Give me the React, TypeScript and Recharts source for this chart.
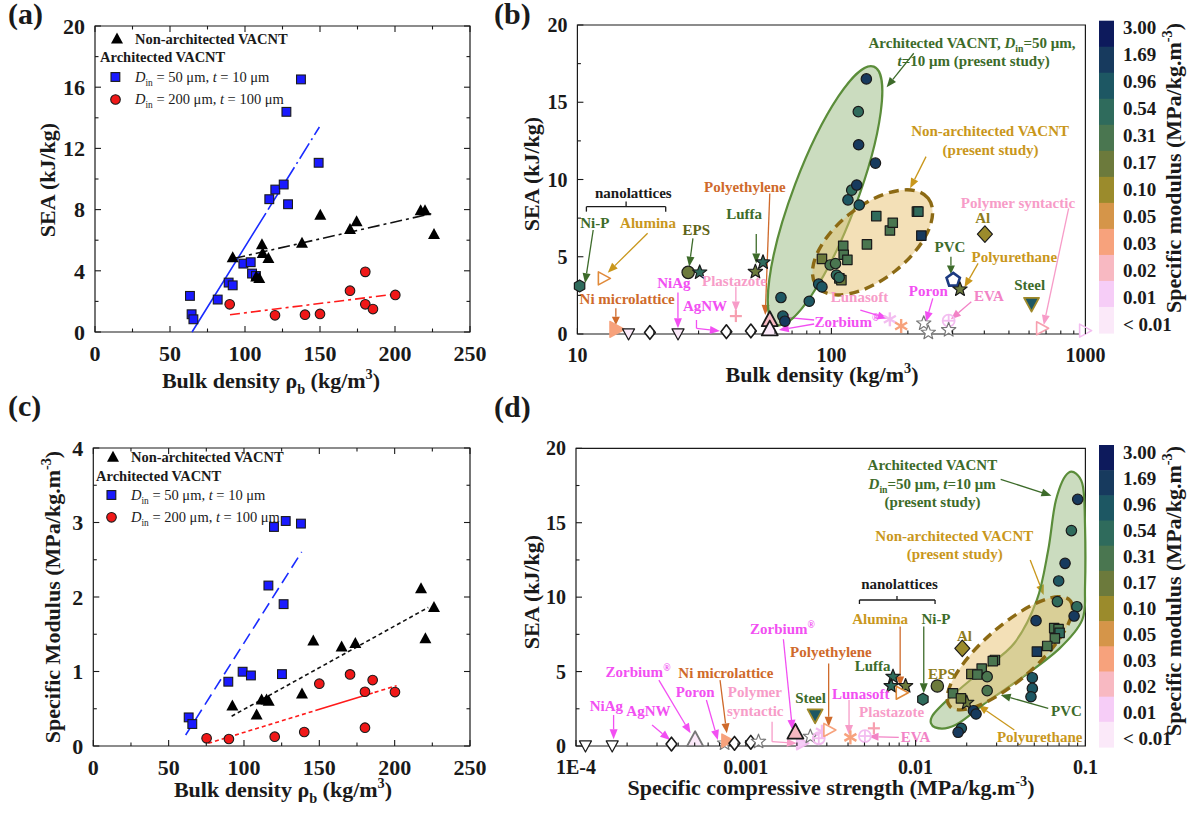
import React from 'react';
import { ScatterChart, Scatter, XAxis, YAxis, ReferenceLine, ReferenceArea } from 'recharts';

const FONT = "'Liberation Serif', 'Times New Roman', Times, serif";
const INK = '#1a1a1a';

/* ---------------- (a) SEA vs bulk density ---------------- */
const aNonArch = [
  { x: 91.8, y: 4.86 }, { x: 107.5, y: 3.6 }, { x: 109.5, y: 3.49 }, { x: 111.3, y: 5.71 },
  { x: 111.8, y: 5.13 }, { x: 115.6, y: 4.8 }, { x: 138, y: 5.8 }, { x: 150.2, y: 7.63 },
  { x: 170, y: 6.7 }, { x: 174.4, y: 7.2 }, { x: 217.1, y: 7.92 }, { x: 220, y: 7.92 }, { x: 226, y: 6.37 },
];
const aArch50 = [
  { x: 63.3, y: 2.36 }, { x: 64.4, y: 1.16 }, { x: 65.6, y: 0.83 }, { x: 81.8, y: 2.12 },
  { x: 89.1, y: 3.23 }, { x: 91.8, y: 3.05 }, { x: 98.9, y: 4.47 }, { x: 103.8, y: 4.56 },
  { x: 104.7, y: 3.82 }, { x: 107.3, y: 3.66 }, { x: 116.2, y: 8.68 }, { x: 120.2, y: 9.31 },
  { x: 125.8, y: 9.64 }, { x: 128.7, y: 8.35 }, { x: 127.6, y: 14.39 }, { x: 137.3, y: 16.51 }, { x: 149.1, y: 11.06 },
];
const aArch200 = [
  { x: 89.8, y: 1.81 }, { x: 120, y: 1.09 }, { x: 140, y: 1.13 }, { x: 150, y: 1.18 }, { x: 170, y: 2.7 },
  { x: 180.2, y: 3.93 }, { x: 180.2, y: 1.81 }, { x: 185.3, y: 1.5 }, { x: 200.2, y: 2.42 },
];
const aFitArch50 = [{ x: 64.7, y: 0 }, { x: 149.6, y: 13.4 }];
const aFitNonArch = [{ x: 92.2, y: 4.8 }, { x: 226.7, y: 7.79 }];
const aFitArch200 = [{ x: 90, y: 1.13 }, { x: 202, y: 2.5 }];

/* ---------------- (c) specific modulus vs bulk density ---------------- */
const cNonArch = [
  { x: 92.3, y: 0.536 }, { x: 108.4, y: 0.416 }, { x: 111.7, y: 0.617 }, { x: 115, y: 0.617 },
  { x: 116.4, y: 0.6 }, { x: 138.5, y: 0.697 }, { x: 146, y: 1.41 }, { x: 164.8, y: 1.33 },
  { x: 173.9, y: 1.376 }, { x: 217.5, y: 2.11 }, { x: 220.4, y: 1.44 }, { x: 226.1, y: 1.86 },
];
const cArch50 = [
  { x: 63.3, y: 0.384 }, { x: 65.7, y: 0.295 }, { x: 89.6, y: 0.863 }, { x: 99.1, y: 0.997 },
  { x: 104.6, y: 0.947 }, { x: 116.2, y: 2.154 }, { x: 119.9, y: 2.94 }, { x: 127.7, y: 3.02 },
  { x: 126.3, y: 1.904 }, { x: 125.2, y: 0.965 }, { x: 137.8, y: 2.985 },
];
const cArch200 = [
  { x: 75.2, y: 0.103 }, { x: 90, y: 0.094 }, { x: 120.4, y: 0.125 }, { x: 140, y: 0.188 },
  { x: 150, y: 0.836 }, { x: 170.4, y: 0.961 }, { x: 180.3, y: 0.728 }, { x: 180.3, y: 0.246 },
  { x: 185.4, y: 0.885 }, { x: 200.2, y: 0.724 },
];
const cFitArch50 = [{ x: 61.3, y: 0.147 }, { x: 138.3, y: 2.606 }];
const cFitNonArch = [{ x: 91.8, y: 0.4 }, { x: 222.3, y: 1.86 }];
const cFitArch200 = [{ x: 76.3, y: 0.036 }, { x: 201.3, y: 0.81 }];

/* ---------------- ticks ---------------- */
const aTicksX = [0, 25, 50, 75, 100, 125, 150, 175, 200, 225, 250];
const aTicksY = [0, 2, 4, 6, 8, 10, 12, 14, 16, 18, 20];
const cTicksY = [0, 0.5, 1, 1.5, 2, 2.5, 3, 3.5, 4];
const bTicksY = [0, 2.5, 5, 7.5, 10, 12.5, 15, 17.5, 20];
const bTicksX = [10, 20, 30, 40, 50, 60, 70, 80, 90, 100, 200, 300, 400, 500, 600, 700, 800, 900, 1000];
const dTicksX = [
  0.0001, 0.0002, 0.0003, 0.0004, 0.0005, 0.0006, 0.0007, 0.0008, 0.0009,
  0.001, 0.002, 0.003, 0.004, 0.005, 0.006, 0.007, 0.008, 0.009,
  0.01, 0.02, 0.03, 0.04, 0.05, 0.06, 0.07, 0.08, 0.09, 0.1,
];
const dTickLabels = ['1E-4', '0.001', '0.01', '0.1'];

/* ---------------- colour bar (specific modulus) ---------------- */
const modulusScale = [
  { label: '3.00', color: '#0d1a5c' },
  { label: '1.69', color: '#173a5e' },
  { label: '0.96', color: '#1d5763' },
  { label: '0.54', color: '#2f6b5c' },
  { label: '0.31', color: '#4a7650' },
  { label: '0.17', color: '#6c7a3c' },
  { label: '0.10', color: '#9b8b2c' },
  { label: '0.05', color: '#d59549' },
  { label: '0.03', color: '#f7a27c' },
  { label: '0.02', color: '#f8b9c2' },
  { label: '0.01', color: '#f6cdf7' },
  { label: '< 0.01', color: '#fbe9f9' },
];
const MOD: Record<string, string> = {};
modulusScale.forEach((m) => { MOD[m.label] = m.color; });
MOD.white = '#ffffff';

const TONE: Record<string, string> = {
  green: '#3d6b2a', gold: '#c9971c', olive: '#5f6418', olivegold: '#8f7d1c', orange: '#cf6a2b',
  magenta: '#f24ff2', lightpink: '#f79cc8', pink: '#f283c6', black: '#1a1a1a',
};
const EDGE: Record<string, string> = {
  k: '#1a1a1a', gray: '#777777', orange: '#e08a3a', navy: '#1c3a80', gold: '#a08a2a',
  pinkL: '#f3bdf0', salmon: '#f7a27c', pink: '#f7a0b0', none: 'none',
};

/* ---------------- (b) SEA vs bulk density, log ---------------- */
const bArch = [
  { x: 63.3, y: 2.36, m: '0.96' }, { x: 64.4, y: 1.16, m: '0.96' }, { x: 65.6, y: 0.83, m: '1.69' },
  { x: 81.8, y: 2.12, m: '0.96' }, { x: 89.1, y: 3.23, m: '0.96' }, { x: 91.8, y: 3.05, m: '0.96' },
  { x: 98.9, y: 4.47, m: '0.31' }, { x: 103.8, y: 4.56, m: '0.31' }, { x: 104.7, y: 3.82, m: '0.54' },
  { x: 107.3, y: 3.66, m: '0.54' }, { x: 116.2, y: 8.68, m: '0.96' }, { x: 120.2, y: 9.31, m: '0.54' },
  { x: 125.8, y: 9.64, m: '1.69' }, { x: 128.7, y: 8.35, m: '0.96' }, { x: 128, y: 12.25, m: '1.69' },
  { x: 127.6, y: 14.39, m: '0.54' }, { x: 137.3, y: 16.51, m: '1.69' }, { x: 149.1, y: 11.06, m: '1.69' },
];
const bNonArch = [
  { x: 91.8, y: 4.86, m: '0.17' }, { x: 107.5, y: 3.6, m: '0.31' }, { x: 109.5, y: 3.49, m: '0.17' },
  { x: 111.3, y: 5.71, m: '0.31' }, { x: 111.8, y: 5.13, m: '0.31' }, { x: 115.6, y: 4.8, m: '0.31' },
  { x: 138, y: 5.8, m: '0.31' }, { x: 150.2, y: 7.63, m: '0.54' }, { x: 170, y: 6.7, m: '0.31' },
  { x: 174.4, y: 7.2, m: '0.31' }, { x: 217.1, y: 7.92, m: '0.31' }, { x: 220, y: 7.92, m: '0.54' },
  { x: 226, y: 6.37, m: '1.69' },
];
const bMaterials = [
  { x: 10.2, y: 3.11, kind: 'hexagon', m: '0.54', e: 'k' },
  { x: 12.64, y: 3.6, kind: 'triRight', m: 'white', e: 'orange' },
  { x: 27.3, y: 3.99, kind: 'circleL', m: '0.17', e: 'k' },
  { x: 30.3, y: 3.99, kind: 'star', m: '0.54', e: 'k' },
  { x: 50.2, y: 4.03, kind: 'star', m: '0.17', e: 'k' },
  { x: 53.8, y: 4.64, kind: 'star', m: '0.54', e: 'k' },
  { x: 14.17, y: 0.3, kind: 'triRightL', m: '0.03', e: 'salmon' },
  { x: 15.9, y: 0.04, kind: 'triDown', m: '< 0.01', e: 'k' },
  { x: 19.3, y: 0.1, kind: 'diamond', m: 'white', e: 'k' },
  { x: 24.9, y: 0.04, kind: 'triDown', m: '< 0.01', e: 'k' },
  { x: 38.6, y: 0.15, kind: 'diamond', m: 'white', e: 'k' },
  { x: 48.2, y: 0.2, kind: 'diamond', m: 'white', e: 'k' },
  { x: 42.06, y: 1.16, kind: 'plus', m: 'white', e: 'pink' },
  { x: 57.2, y: 0.9, kind: 'triL', m: '0.02', e: 'k' },
  { x: 57.2, y: 0.3, kind: 'triL', m: '< 0.01', e: 'k' },
  { x: 169.9, y: 0.95, kind: 'asterisk', m: 'white', e: 'pinkL' },
  { x: 188.2, y: 0.52, kind: 'asterisk', m: 'white', e: 'salmon' },
  { x: 231, y: 0.69, kind: 'star', m: 'white', e: 'gray' },
  { x: 240.7, y: 0.09, kind: 'star', m: 'white', e: 'gray' },
  { x: 289.5, y: 0.86, kind: 'circlePlus', m: 'white', e: 'pinkL' },
  { x: 289.5, y: 0.26, kind: 'star', m: 'white', e: 'gray' },
  { x: 301.7, y: 3.5, kind: 'pentagon', m: 'white', e: 'navy' },
  { x: 320.8, y: 2.89, kind: 'star', m: '0.17', e: 'k' },
  { x: 402.1, y: 6.47, kind: 'diamondL', m: '0.10', e: 'k' },
  { x: 613.7, y: 1.98, kind: 'triDownL', m: '0.96', e: 'gold' },
  { x: 671.6, y: 0.37, kind: 'triRight', m: 'white', e: 'pink' },
  { x: 991.8, y: 0.22, kind: 'triRight', m: 'white', e: 'pinkL' },
];
const bRegionArch = [{ x: 94.4, y: 8.95 }];
const bRegionNonArch = [{ x: 145.2, y: 5.93 }];
const bLabels = [
  { x: 357.8, y: 18.86, t: 'Architected VACNT, |i:D|sub:in|=50 μm,', tone: 'green' },
  { x: 362.9, y: 17.67, t: '|i:t|=10 μm (present study)', tone: 'green' },
  { x: 421.5, y: 13.16, t: 'Non-architected VACNT', tone: 'gold' },
  { x: 423.3, y: 11.91, t: '(present study)', tone: 'gold' },
  { x: 16.6, y: 9.15, t: 'nanolattices', tone: 'black' },
  { x: 11.71, y: 7.21, t: 'Ni-P', tone: 'green' },
  { x: 18.97, y: 7.21, t: 'Alumina', tone: 'gold' },
  { x: 29.4, y: 6.77, t: 'EPS', tone: 'olive' },
  { x: 45.3, y: 7.77, t: 'Luffa', tone: 'green' },
  { x: 45.65, y: 9.54, t: 'Polyethylene', tone: 'orange' },
  { x: 23.97, y: 3.28, t: 'NiAg', tone: 'magenta' },
  { x: 41.55, y: 3.45, t: 'Plastazote', tone: 'lightpink' },
  { x: 15.7, y: 2.24, t: 'Ni microlattice', tone: 'orange' },
  { x: 31.8, y: 1.81, t: 'AgNW', tone: 'magenta' },
  { x: 115, y: 0.8, t: 'Zorbium|sup:®', tone: 'magenta' },
  { x: 129, y: 2.42, t: 'Lunasoft', tone: 'lightpink' },
  { x: 240.7, y: 2.8, t: 'Poron', tone: 'magenta' },
  { x: 417.2, y: 2.46, t: 'EVA', tone: 'pink' },
  { x: 603.6, y: 3.17, t: 'Steel', tone: 'green' },
  { x: 293, y: 5.61, t: 'PVC', tone: 'green' },
  { x: 525, y: 4.96, t: 'Polyurethane', tone: 'gold' },
  { x: 393.9, y: 7.49, t: 'Al', tone: 'olivegold' },
  { x: 542.5, y: 8.5, t: 'Polymer syntactic', tone: 'lightpink' },
];
const bArrows = [
  { x1: 211, y1: 18.17, x2: 165, y2: 15.97, tone: 'green' },
  { x1: 235.8, y1: 11.48, x2: 204.2, y2: 9.43, tone: 'gold' },
  { x1: 11.54, y1: 6.73, x2: 10.72, y2: 3.28, tone: 'green' },
  { x1: 18.9, y1: 6.52, x2: 13.17, y2: 3.97, tone: 'gold' },
  { x1: 28.5, y1: 6.19, x2: 27.55, y2: 4.36, tone: 'green' },
  { x1: 50.6, y1: 6.47, x2: 50.6, y2: 4.57, tone: 'green' },
  { x1: 57.2, y1: 9.1, x2: 54.9, y2: 1.23, tone: 'orange' },
  { x1: 24.88, y1: 2.68, x2: 24.88, y2: 0.37, tone: 'magenta' },
  { x1: 42.06, y1: 3.06, x2: 42.06, y2: 1.45, tone: 'lightpink' },
  { x1: 14.17, y1: 1.66, x2: 14.17, y2: 0.58, tone: 'orange' },
  { x1: 29.43, y1: 0.367, x2: 36.4, y2: 0.19, tone: 'magenta' },
  { x1: 85.5, y1: 0.906, x2: 62.1, y2: 1.12, tone: 'magenta' },
  { x1: 85.5, y1: 0.647, x2: 62.1, y2: 0.26, tone: 'magenta' },
  { x1: 130, y1: 1.55, x2: 166.3, y2: 1.01, tone: 'magenta' },
  { x1: 250.7, y1: 2.31, x2: 235.8, y2: 0.8, tone: 'magenta' },
  { x1: 355.5, y1: 2.09, x2: 295.5, y2: 0.95, tone: 'pink' },
  { x1: 295.5, y1: 5.0, x2: 295.5, y2: 3.88, tone: 'green' },
  { x1: 378, y1: 4.57, x2: 334, y2: 3.02, tone: 'gold' },
  { x1: 859, y1: 8.13, x2: 685.6, y2: 0.58, tone: 'lightpink' },
];
const bLines = [
  { x1: 10.85, y1: 8.24, x2: 22.27, y2: 8.24, tone: 'black' },
  { x1: 10.85, y1: 8.24, x2: 10.85, y2: 7.92, tone: 'black' },
  { x1: 22.27, y1: 8.24, x2: 22.27, y2: 7.92, tone: 'black' },
  { x1: 15.55, y1: 8.24, x2: 15.55, y2: 8.57, tone: 'black' },
  { x1: 29.43, y1: 0.906, x2: 29.43, y2: 0.367, tone: 'magenta' },
];

/* ---------------- (d) SEA vs specific compressive strength, log ---------------- */
const dArch = [
  { x: 0.0901, y: 16.57, m: '1.69' }, { x: 0.0827, y: 14.47, m: '0.54' }, { x: 0.0759, y: 12.27, m: '1.69' },
  { x: 0.0696, y: 11.09, m: '0.96' }, { x: 0.0684, y: 9.7, m: '0.54' }, { x: 0.0891, y: 9.36, m: '0.54' },
  { x: 0.0858, y: 8.73, m: '1.69' }, { x: 0.0512, y: 8.42, m: '1.69' }, { x: 0.0487, y: 4.59, m: '0.96' },
  { x: 0.0487, y: 3.87, m: '0.96' }, { x: 0.0478, y: 3.31, m: '0.96' }, { x: 0.0264, y: 4.66, m: '0.31' },
  { x: 0.0264, y: 3.72, m: '0.31' }, { x: 0.0219, y: 2.37, m: '1.69' }, { x: 0.0227, y: 2.15, m: '1.69' },
  { x: 0.0186, y: 1.19, m: '0.96' }, { x: 0.0178, y: 0.92, m: '1.69' },
];
const dNonArch = [
  { x: 0.0655, y: 7.92, m: '0.31' }, { x: 0.0695, y: 7.85, m: '0.31' }, { x: 0.0705, y: 7.6, m: '0.54' },
  { x: 0.0661, y: 7.23, m: '0.31' }, { x: 0.0596, y: 6.72, m: '0.31' }, { x: 0.0518, y: 6.34, m: '1.69' },
  { x: 0.0293, y: 5.78, m: '0.31' }, { x: 0.0285, y: 5.7, m: '0.31' }, { x: 0.0245, y: 5.2, m: '0.31' },
  { x: 0.0213, y: 4.84, m: '0.17' }, { x: 0.0231, y: 4.8, m: '0.31' }, { x: 0.0166, y: 3.54, m: '0.31' },
  { x: 0.0185, y: 3.2, m: '0.17' },
];
const dMaterials = [
  { x: 0.0001137, y: 0.04, kind: 'triDown', m: 'white', e: 'k' },
  { x: 0.0001634, y: 0.04, kind: 'triDown', m: 'white', e: 'k' },
  { x: 0.000365, y: 0.13, kind: 'diamond', m: 'white', e: 'k' },
  { x: 0.000503, y: 0.4, kind: 'triL', m: '< 0.01', e: 'gray' },
  { x: 0.00075, y: 0.18, kind: 'star', m: 'white', e: 'gray' },
  { x: 0.000773, y: 0.36, kind: 'triRight', m: '0.03', e: 'salmon' },
  { x: 0.000858, y: 0.18, kind: 'diamond', m: 'white', e: 'k' },
  { x: 0.00107, y: 0.25, kind: 'diamond', m: 'white', e: 'k' },
  { x: 0.001188, y: 0.29, kind: 'star', m: 'white', e: 'gray' },
  { x: 0.00213, y: 0.18, kind: 'triRight', m: '0.01', e: 'pinkL' },
  { x: 0.00196, y: 0.9, kind: 'triL', m: '0.02', e: 'k' },
  { x: 0.0024, y: 0.63, kind: 'star', m: 'white', e: 'gray' },
  { x: 0.00269, y: 0.52, kind: 'circlePlus', m: 'white', e: 'pinkL' },
  { x: 0.00281, y: 0.96, kind: 'asterisk', m: 'white', e: 'pinkL' },
  { x: 0.00256, y: 2.08, kind: 'triDownL', m: '0.96', e: 'gold' },
  { x: 0.00308, y: 1.08, kind: 'triRight', m: 'white', e: 'salmon' },
  { x: 0.00413, y: 0.58, kind: 'asterisk', m: 'white', e: 'salmon' },
  { x: 0.00503, y: 0.67, kind: 'circlePlus', m: 'white', e: 'pinkL' },
  { x: 0.00568, y: 1.19, kind: 'plus', m: 'white', e: 'pink' },
  { x: 0.00736, y: 4.66, kind: 'star', m: '0.54', e: 'k' },
  { x: 0.00718, y: 4.03, kind: 'star', m: '0.54', e: 'k' },
  { x: 0.00873, y: 4.03, kind: 'star', m: '0.17', e: 'k' },
  { x: 0.00822, y: 3.58, kind: 'triRight', m: 'white', e: 'orange' },
  { x: 0.01104, y: 3.14, kind: 'hexagon', m: '0.54', e: 'k' },
  { x: 0.01343, y: 4.03, kind: 'circleL', m: '0.17', e: 'k' },
  { x: 0.01884, y: 6.56, kind: 'diamondL', m: '0.10', e: 'k' },
  { x: 0.02, y: 2.91, kind: 'star', m: '0.17', e: 'k' },
];
const dRegionArch = [
  { x: 0.0797, y: 18.37 }, { x: 0.0958, y: 17.65 }, { x: 0.0995, y: 14.74 }, { x: 0.0995, y: 10.71 },
  { x: 0.0958, y: 8.47 }, { x: 0.0705, y: 6.56 }, { x: 0.0431, y: 4.66 }, { x: 0.0264, y: 2.98 },
  { x: 0.01717, y: 1.41 }, { x: 0.01302, y: 1.25 }, { x: 0.01247, y: 1.97 }, { x: 0.01614, y: 3.31 },
  { x: 0.0248, y: 5.11 }, { x: 0.0381, y: 6.9 }, { x: 0.0518, y: 9.81 }, { x: 0.0604, y: 13.17 },
  { x: 0.0671, y: 16.53 },
];
const dRegionNonArch = [{ x: 0.0359, y: 6.23 }];
const dLabels = [
  { x: 0.01256, y: 18.88, t: 'Architected VACNT', tone: 'green' },
  { x: 0.01252, y: 17.6, t: '|i:D|sub:in|=50 μm, |i:t|=10 μm', tone: 'green' },
  { x: 0.01256, y: 16.37, t: '(present study)', tone: 'green' },
  { x: 0.0169, y: 14.13, t: 'Non-architected VACNT', tone: 'gold' },
  { x: 0.017, y: 12.88, t: '(present study)', tone: 'gold' },
  { x: 0.00804, y: 10.86, t: 'nanolattices', tone: 'black' },
  { x: 0.00618, y: 8.51, t: 'Alumina', tone: 'gold' },
  { x: 0.01318, y: 8.51, t: 'Ni-P', tone: 'green' },
  { x: 0.0194, y: 7.39, t: 'Al', tone: 'olivegold' },
  { x: 0.00558, y: 5.4, t: 'Luffa', tone: 'green' },
  { x: 0.01428, y: 4.84, t: 'EPS', tone: 'olivegold' },
  { x: 0.003173, y: 6.29, t: 'Polyethylene', tone: 'orange' },
  { x: 0.001644, y: 7.84, t: 'Zorbium|sup:®', tone: 'magenta' },
  { x: 0.0002319, y: 4.99, t: 'Zorbium|sup:®', tone: 'magenta' },
  { x: 0.000763, y: 4.93, t: 'Ni microlattice', tone: 'orange' },
  { x: 0.000503, y: 3.61, t: 'Poron', tone: 'magenta' },
  { x: 0.001131, y: 3.61, t: 'Polymer', tone: 'lightpink' },
  { x: 0.001136, y: 2.35, t: 'syntactic', tone: 'lightpink' },
  { x: 0.0001509, y: 2.69, t: 'NiAg', tone: 'magenta' },
  { x: 0.000267, y: 2.37, t: 'AgNW', tone: 'magenta' },
  { x: 0.002406, y: 3.25, t: 'Steel', tone: 'green' },
  { x: 0.004755, y: 3.49, t: 'Lunasoft', tone: 'magenta' },
  { x: 0.00722, y: 2.26, t: 'Plastazote', tone: 'lightpink' },
  { x: 0.01, y: 0.63, t: 'EVA', tone: 'pink' },
  { x: 0.0773, y: 2.37, t: 'PVC', tone: 'green' },
  { x: 0.0538, y: 0.63, t: 'Polyurethane', tone: 'gold' },
];
const dArrows = [
  { x1: 0.0317, y1: 17.92, x2: 0.0631, y2: 16.82, tone: 'green' },
  { x1: 0.0473, y1: 12.5, x2: 0.0568, y2: 10.15, tone: 'gold' },
  { x1: 0.00811, y1: 8.02, x2: 0.00811, y2: 3.99, tone: 'orange' },
  { x1: 0.01117, y1: 8.02, x2: 0.01117, y2: 3.54, tone: 'green' },
  { x1: 0.003076, y1: 5.55, x2: 0.003076, y2: 1.3, tone: 'orange' },
  { x1: 0.001665, y1: 7.17, x2: 0.001883, y2: 1.08, tone: 'magenta' },
  { x1: 0.0003076, y1: 4.43, x2: 0.0004727, y2: 0.85, tone: 'magenta' },
  { x1: 0.000705, y1: 4.43, x2: 0.000773, y2: 0.85, tone: 'orange' },
  { x1: 0.000586, y1: 3.09, x2: 0.000684, y2: 0.4, tone: 'magenta' },
  { x1: 0.001428, y1: 0.29, x2: 0.002, y2: 0.18, tone: 'lightpink' },
  { x1: 0.0001665, y1: 2.08, x2: 0.0001665, y2: 0.45, tone: 'magenta' },
  { x1: 0.0002805, y1: 1.41, x2: 0.0003586, y2: 0.4, tone: 'magenta' },
  { x1: 0.004055, y1: 3.09, x2: 0.004055, y2: 0.74, tone: 'lightpink' },
  { x1: 0.00796, y1: 0.58, x2: 0.00528, y2: 0.63, tone: 'pink' },
  { x1: 0.0604, y1: 2.53, x2: 0.0317, y2: 3.43, tone: 'green' },
  { x1: 0.03814, y1: 1.08, x2: 0.02333, y2: 2.75, tone: 'gold' },
];
const dLines = [
  { x1: 0.00467, y1: 9.81, x2: 0.01302, y2: 9.81, tone: 'black' },
  { x1: 0.00467, y1: 9.81, x2: 0.00467, y2: 9.54, tone: 'black' },
  { x1: 0.01302, y1: 9.81, x2: 0.01302, y2: 9.54, tone: 'black' },
  { x1: 0.00777, y1: 9.81, x2: 0.00777, y2: 10.08, tone: 'black' },
  { x1: 0.001428, y1: 1.63, x2: 0.001428, y2: 0.29, tone: 'lightpink' },
];

/* ================= helpers ================= */
const Hidden = () => <g />;

function Rich({ x, y, text, size = 15, color = INK, anchor = 'middle', weight = 'bold', transform }: any) {
  const segs = String(text).split('|').filter((s: string) => s.length > 0);
  let shift = 0;
  const spans = segs.map((seg: string, i: number) => {
    let content = seg;
    let target = 0;
    let fs: number | undefined;
    let italic = false;
    if (seg.startsWith('i:')) { content = seg.slice(2); italic = true; }
    else if (seg.startsWith('sub:')) { content = seg.slice(4); target = size * 0.28; fs = size * 0.65; }
    else if (seg.startsWith('sup:')) { content = seg.slice(4); target = -size * 0.4; fs = size * 0.65; }
    const dy = target - shift;
    shift = target;
    return (
      <tspan key={i} dy={dy !== 0 ? dy : undefined} fontSize={fs} fontStyle={italic ? 'italic' : undefined}>
        {content}
      </tspan>
    );
  });
  return (
    <text x={x} y={y} textAnchor={anchor} fontFamily={FONT} fontWeight={weight} fontSize={size} fill={color}
      transform={transform} style={{ whiteSpace: 'pre' }}>
      {spans}
    </text>
  );
}

const P = (arr: number[][]) => arr.map((p) => `${p[0]},${p[1]}`).join(' ');
function regular(cx: number, cy: number, r: number, n: number, rot: number) {
  const out: number[][] = [];
  for (let i = 0; i < n; i++) {
    const a = rot + (i * 2 * Math.PI) / n;
    out.push([cx + r * Math.cos(a), cy + r * Math.sin(a)]);
  }
  return P(out);
}
function starPts(cx: number, cy: number, R: number, r: number) {
  const out: number[][] = [];
  for (let i = 0; i < 10; i++) {
    const a = -Math.PI / 2 + (i * Math.PI) / 5;
    const rad = i % 2 ? r : R;
    out.push([cx + rad * Math.cos(a), cy + rad * Math.sin(a)]);
  }
  return P(out);
}

function Mark({ kind, cx, cy, fill, stroke, sw = 1.2 }: any) {
  const c = { fill, stroke, strokeWidth: sw, strokeLinejoin: 'round' as const };
  switch (kind) {
    case 'circle': return <circle cx={cx} cy={cy} r={5.2} {...c} />;
    case 'circleL': return <circle cx={cx} cy={cy} r={6.2} {...c} />;
    case 'square': return <rect x={cx - 4.7} y={cy - 4.7} width={9.4} height={9.4} {...c} />;
    case 'tri': { const h = 5.8; return <polygon points={P([[cx, cy - h * 1.1], [cx - h, cy + h * 0.75], [cx + h, cy + h * 0.75]])} {...c} />; }
    case 'triL': { const h = 8; return <polygon points={P([[cx, cy - h * 1.1], [cx - h, cy + h * 0.75], [cx + h, cy + h * 0.75]])} {...c} strokeWidth={1.8} />; }
    case 'triDown': { const h = 6; return <polygon points={P([[cx, cy + h * 1.1], [cx - h, cy - h * 0.75], [cx + h, cy - h * 0.75]])} {...c} />; }
    case 'triDownL': { const h = 7.5; return <polygon points={P([[cx, cy + h * 1.1], [cx - h, cy - h * 0.75], [cx + h, cy - h * 0.75]])} {...c} strokeWidth={1.8} />; }
    case 'triRight': { const h = 6.5; return <polygon points={P([[cx + h * 1.1, cy], [cx - h * 0.75, cy - h], [cx - h * 0.75, cy + h]])} {...c} strokeWidth={1.6} />; }
    case 'triRightL': { const h = 8; return <polygon points={P([[cx + h * 1.1, cy], [cx - h * 0.75, cy - h], [cx - h * 0.75, cy + h]])} {...c} />; }
    case 'diamond': { const h = 6; return <polygon points={P([[cx, cy - h * 1.15], [cx + h * 0.9, cy], [cx, cy + h * 1.15], [cx - h * 0.9, cy]])} {...c} strokeWidth={1.6} />; }
    case 'diamondL': { const h = 7.5; return <polygon points={P([[cx, cy - h * 1.1], [cx + h, cy], [cx, cy + h * 1.1], [cx - h, cy]])} {...c} />; }
    case 'star': return <polygon points={starPts(cx, cy, 7.5, 3.2)} {...c} />;
    case 'hexagon': return <polygon points={regular(cx, cy, 6, 6, Math.PI / 6)} {...c} />;
    case 'pentagon': return <polygon points={regular(cx, cy, 7, 5, -Math.PI / 2)} fill={fill} stroke={stroke} strokeWidth={2.6} />;
    case 'plus': return (
      <g stroke={stroke} strokeWidth={2.2}>
        <line x1={cx - 6} x2={cx + 6} y1={cy} y2={cy} />
        <line x1={cx} x2={cx} y1={cy - 6} y2={cy + 6} />
      </g>
    );
    case 'asterisk': return (
      <g stroke={stroke} strokeWidth={2.4}>
        <line x1={cx} x2={cx} y1={cy - 7} y2={cy + 7} />
        <line x1={cx - 6} x2={cx + 6} y1={cy - 3.5} y2={cy + 3.5} />
        <line x1={cx - 6} x2={cx + 6} y1={cy + 3.5} y2={cy - 3.5} />
      </g>
    );
    case 'circlePlus': return (
      <g stroke={stroke} strokeWidth={1.8} fill="none">
        <circle cx={cx} cy={cy} r={6} />
        <line x1={cx - 6} x2={cx + 6} y1={cy} y2={cy} />
        <line x1={cx} x2={cx} y1={cy - 6} y2={cy + 6} />
      </g>
    );
    default: return <circle cx={cx} cy={cy} r={5} {...c} />;
  }
}

const materialShape = (p: any) => (
  <Mark kind={p.payload.kind} cx={p.cx} cy={p.cy} fill={MOD[p.payload.m]} stroke={EDGE[p.payload.e]} />
);
const modCircle = (p: any) => <Mark kind="circle" cx={p.cx} cy={p.cy} fill={MOD[p.payload.m]} stroke={INK} />;
const modSquare = (p: any) => <Mark kind="square" cx={p.cx} cy={p.cy} fill={MOD[p.payload.m]} stroke={INK} />;
const labelShape = (p: any) => (
  <Rich x={p.cx} y={p.cy + 15 * 0.34} text={p.payload.t} color={TONE[p.payload.tone]} size={15} />
);

const arrowShape = (color: string) => (p: any) => {
  const { x1, y1, x2, y2 } = p;
  const dx = x2 - x1, dy = y2 - y1;
  const L = Math.hypot(dx, dy) || 1;
  const ux = dx / L, uy = dy / L;
  const hl = Math.min(10, L * 0.5), hw = 4;
  const bx = x2 - ux * hl, by = y2 - uy * hl;
  return (
    <g>
      <line x1={x1} y1={y1} x2={bx} y2={by} stroke={color} strokeWidth={1.3} />
      <polygon points={`${x2},${y2} ${bx - uy * hw},${by + ux * hw} ${bx + uy * hw},${by - ux * hw}`} fill={color} />
    </g>
  );
};

const ellipseShape = (rx: number, ry: number, rot: number, fill: string, stroke: string, sw: number, dash?: string) =>
  (p: any) => (
    <ellipse cx={p.cx} cy={p.cy} rx={rx} ry={ry} transform={`rotate(${rot} ${p.cx} ${p.cy})`}
      fill={fill} stroke={stroke} strokeWidth={sw} strokeDasharray={dash} />
  );

function closedCurve(pts: { x: number; y: number }[]) {
  const n = pts.length;
  if (!n) return '';
  let d = `M${pts[0].x},${pts[0].y}`;
  for (let i = 0; i < n; i++) {
    const p0 = pts[(i - 1 + n) % n], p1 = pts[i], p2 = pts[(i + 1) % n], p3 = pts[(i + 2) % n];
    const c1x = p1.x + (p2.x - p0.x) / 6, c1y = p1.y + (p2.y - p0.y) / 6;
    const c2x = p2.x - (p3.x - p1.x) / 6, c2y = p2.y - (p3.y - p1.y) / 6;
    d += ` C${c1x},${c1y} ${c2x},${c2y} ${p2.x},${p2.y}`;
  }
  return d + ' Z';
}
const regionLine = (fill: string, stroke: string) => (p: any) => (
  <path d={closedCurve(p.points || [])} fill={fill} stroke={stroke} strokeWidth={2.2} />
);

const GREEN_FILL = 'rgba(118,163,88,0.38)';
const GREEN_EDGE = '#5b8d3a';
const GOLD_FILL = 'rgba(232,194,112,0.5)';
const GOLD_EDGE = '#8c6a14';

/* ticks */
function makeXTick(o: any) {
  return (p: any) => {
    const v = Number(p.payload && p.payload.value);
    const x = p.x;
    const maj = o.isMajor(v);
    const len = maj ? 6 : 3.5;
    return (
      <g>
        <line x1={x} x2={x} y1={o.axisY} y2={o.axisY - len} stroke={INK} strokeWidth={1.1} />
        {o.mirror ? <line x1={x} x2={x} y1={o.axisY - o.plotH} y2={o.axisY - o.plotH + len} stroke={INK} strokeWidth={1.1} /> : null}
        {maj ? (
          <text x={x} y={o.axisY + o.base} textAnchor="middle" fontFamily={FONT} fontWeight="bold" fontSize={o.fs} fill={INK}>
            {o.fmt(v)}
          </text>
        ) : null}
      </g>
    );
  };
}
function makeYTick(o: any) {
  return (p: any) => {
    const v = Number(p.payload && p.payload.value);
    const y = p.y;
    const maj = o.isMajor(v);
    const len = maj ? 6 : 3.5;
    return (
      <g>
        <line x1={o.axisX} x2={o.axisX + len} y1={y} y2={y} stroke={INK} strokeWidth={1.1} />
        {o.mirror ? <line x1={o.axisX + o.plotW} x2={o.axisX + o.plotW - len} y1={y} y2={y} stroke={INK} strokeWidth={1.1} /> : null}
        {maj ? (
          <text x={o.axisX - 10} y={y + o.fs * 0.35} textAnchor="end" fontFamily={FONT} fontWeight="bold" fontSize={o.fs} fill={INK}>
            {o.fmt(v)}
          </text>
        ) : null}
      </g>
    );
  };
}
const isMultiple = (step: number) => (v: number) => Math.abs(v / step - Math.round(v / step)) < 1e-6;
const isDecade = (v: number) => { const l = Math.log10(v); return Math.abs(l - Math.round(l)) < 1e-6; };
const plain = (v: number) => String(v);

/* ================= panels ================= */
function LinearPanel({ left, top, W, H, box, yMax, yTicks, yStep, nonArch, arch50, arch200, fits, dashes }: any) {
  const plotW = box.R - box.L, plotH = box.B - box.T;
  return (
    <div style={{ position: 'absolute', left, top, width: W, height: H }}>
      <ScatterChart width={W} height={H} margin={{ top: box.T, right: W - box.R, left: box.L - 60, bottom: H - box.B - 40 }}>
        <XAxis dataKey="x" type="number" domain={[0, 250]} ticks={aTicksX} interval={0} axisLine={false} tickLine={false}
          height={40} tick={makeXTick({ axisY: box.B, plotH, mirror: true, isMajor: isMultiple(50), fmt: plain, fs: 22, base: 29 })} />
        <YAxis dataKey="y" type="number" domain={[0, yMax]} ticks={yTicks} interval={0} axisLine={false} tickLine={false}
          width={60} tick={makeYTick({ axisX: box.L, plotW, mirror: true, isMajor: isMultiple(yStep), fmt: plain, fs: 22 })} />
        <ReferenceArea x1={0} x2={250} y1={0} y2={yMax} fill="none" stroke={INK} strokeWidth={1.2} ifOverflow="visible" />
        <Scatter data={fits[0]} shape={Hidden} line={{ stroke: '#1a2cff', strokeWidth: 1.6, strokeDasharray: dashes[0] }} lineType="joint" legendType="none" isAnimationActive={false} />
        <Scatter data={fits[1]} shape={Hidden} line={{ stroke: '#111111', strokeWidth: 1.6, strokeDasharray: dashes[1] }} lineType="joint" legendType="none" isAnimationActive={false} />
        <Scatter data={fits[2]} shape={Hidden} line={{ stroke: '#ff1a1a', strokeWidth: 1.6, strokeDasharray: dashes[2] }} lineType="joint" legendType="none" isAnimationActive={false} />
        <Scatter data={arch200} shape={(p: any) => <circle cx={p.cx} cy={p.cy} r={4.8} fill="#f01818" stroke={INK} strokeWidth={1.1} />} isAnimationActive={false} />
        <Scatter data={arch50} shape={(p: any) => <rect x={p.cx - 4.4} y={p.cy - 4.4} width={8.8} height={8.8} fill="#1a1aff" stroke={INK} strokeWidth={1.1} />} isAnimationActive={false} />
        <Scatter data={nonArch} shape={(p: any) => <polygon points={P([[p.cx, p.cy - 6.5], [p.cx - 6, p.cy + 4.5], [p.cx + 6, p.cy + 4.5]])} fill="#000" />} isAnimationActive={false} />
      </ScatterChart>
    </div>
  );
}

function LogPanel({ left, top, W, H, box, xDomain, xTicks, fmtX, arch, nonArch, materials, regionArch, regionArchEllipse, regionNonArch, nonArchEllipse, labels, arrows, lines }: any) {
  const plotW = box.R - box.L, plotH = box.B - box.T;
  return (
    <div style={{ position: 'absolute', left, top, width: W, height: H }}>
      <ScatterChart width={W} height={H} margin={{ top: box.T, right: W - box.R, left: box.L - 60, bottom: H - box.B - 40 }}>
        <XAxis dataKey="x" type="number" scale="log" domain={xDomain} ticks={xTicks} interval={0} axisLine={false} tickLine={false}
          height={40} tick={makeXTick({ axisY: box.B, plotH, mirror: false, isMajor: isDecade, fmt: fmtX, fs: 20, base: 28 })} />
        <YAxis dataKey="y" type="number" domain={[0, 20]} ticks={bTicksY} interval={0} axisLine={false} tickLine={false}
          width={60} tick={makeYTick({ axisX: box.L, plotW, mirror: false, isMajor: isMultiple(5), fmt: plain, fs: 20 })} />
        <ReferenceArea x1={xDomain[0]} x2={xDomain[1]} y1={0} y2={20} fill="none" stroke={INK} strokeWidth={1.2} ifOverflow="visible" />
        {regionArchEllipse ? (
          <Scatter data={regionArch} shape={ellipseShape(regionArchEllipse[0], regionArchEllipse[1], regionArchEllipse[2], GREEN_FILL, GREEN_EDGE, 2.2)} isAnimationActive={false} />
        ) : (
          <Scatter data={regionArch} shape={Hidden} line={regionLine(GREEN_FILL, GREEN_EDGE)} lineType="joint" isAnimationActive={false} />
        )}
        <Scatter data={regionNonArch} shape={ellipseShape(nonArchEllipse[0], nonArchEllipse[1], nonArchEllipse[2], GOLD_FILL, GOLD_EDGE, 3.4, '10 6')} isAnimationActive={false} />
        <Scatter data={materials} shape={materialShape} isAnimationActive={false} />
        <Scatter data={nonArch} shape={modSquare} isAnimationActive={false} />
        <Scatter data={arch} shape={modCircle} isAnimationActive={false} />
        {lines.map((l: any, i: number) => (
          <ReferenceLine key={'l' + i} segment={[{ x: l.x1, y: l.y1 }, { x: l.x2, y: l.y2 }]} stroke={TONE[l.tone]} strokeWidth={1.3} ifOverflow="visible" />
        ))}
        {arrows.map((a: any, i: number) => (
          <ReferenceLine key={'a' + i} segment={[{ x: a.x1, y: a.y1 }, { x: a.x2, y: a.y2 }]} ifOverflow="visible" shape={arrowShape(TONE[a.tone])} />
        ))}
        <Scatter data={labels} shape={labelShape} isAnimationActive={false} />
      </ScatterChart>
    </div>
  );
}

function ColorBar({ x, top, bottom, labelTop, labelStep }: any) {
  const n = modulusScale.length;
  const h = (bottom - top) / n;
  return (
    <g>
      {modulusScale.map((m, i) => <rect key={i} x={x} y={top + i * h} width={15} height={h + 0.6} fill={m.color} />)}
      {modulusScale.map((m, i) => (
        <text key={'t' + i} x={x + 24} y={labelTop + i * labelStep + 19 * 0.35} fontSize={19} fontWeight="bold" fontFamily={FONT} fill={INK}>
          {m.label}
        </text>
      ))}
    </g>
  );
}

function Legend({ x0, yRows }: any) {
  const [r1, r2, r3, r4] = yRows;
  return (
    <g>
      <polygon points={P([[x0 + 17, r1 - 6.5], [x0 + 11, r1 + 4.5], [x0 + 23, r1 + 4.5]])} fill="#000" />
      <text x={x0 + 35} y={r1 + 5} fontFamily={FONT} fontWeight="bold" fontSize={14.5} fill={INK}>Non-architected VACNT</text>
      <text x={x0} y={r2 + 5} fontFamily={FONT} fontWeight="bold" fontSize={14.5} fill={INK}>Architected VACNT</text>
      <rect x={x0 + 11} y={r3 - 4.4} width={8.8} height={8.8} fill="#1a1aff" stroke={INK} strokeWidth={1.1} />
      <Rich x={x0 + 35} y={r3 + 4.5} text="|i:D|sub:in| = 50 μm, |i:t| = 10 μm" size={14.5} anchor="start" weight="normal" />
      <circle cx={x0 + 15.5} cy={r4} r={4.8} fill="#f01818" stroke={INK} strokeWidth={1.1} />
      <Rich x={x0 + 35} y={r4 + 4.5} text="|i:D|sub:in| = 200 μm, |i:t| = 100 μm" size={14.5} anchor="start" weight="normal" />
    </g>
  );
}

function Overlay() {
  return (
    <svg width={1190} height={816} style={{ position: 'absolute', left: 0, top: 0, pointerEvents: 'none' }}>
      <g fontFamily={FONT} fontWeight="bold" fontSize={30} fill={INK}>
        <text x={8} y={24}>(a)</text>
        <text x={494} y={24}>(b)</text>
        <text x={8} y={416}>(c)</text>
        <text x={494} y={417}>(d)</text>
      </g>
      <Legend x0={100} yRows={[39, 57, 77, 99.5]} />
      <Legend x0={96} yRows={[457.3, 476, 495, 517.3]} />
      <Rich x={271} y={388} text="Bulk density ρ|sub:b| (kg/m|sup:3|)" size={22} />
      <Rich x={0} y={0} text="SEA (kJ/kg)" size={22} transform="translate(55,180) rotate(-90)" />
      <Rich x={283} y={797} text="Bulk density ρ|sub:b| (kg/m|sup:3|)" size={22} />
      <Rich x={0} y={0} text="Specific Modulus (MPa/kg.m|sup:-3|)" size={22} transform="translate(60,597) rotate(-90)" />
      <Rich x={822} y={382} text="Bulk density (kg/m|sup:3|)" size={22} />
      <Rich x={0} y={0} text="SEA (kJ/kg)" size={22} transform="translate(539,174) rotate(-90)" />
      <Rich x={831} y={795} text="Specific compressive strength (MPa/kg.m|sup:-3|)" size={22} />
      <Rich x={0} y={0} text="SEA (kJ/kg)" size={22} transform="translate(539,592) rotate(-90)" />
      <ColorBar x={1099} top={20.7} bottom={333} labelTop={27} labelStep={27} />
      <ColorBar x={1099} top={445} bottom={747} labelTop={452} labelStep={26} />
      <Rich x={0} y={0} text="Specific modulus (MPa/kg.m|sup:-3|)" size={22} transform="translate(1181,168) rotate(-90)" />
      <Rich x={0} y={0} text="Specific modulus (MPa/kg.m|sup:-3|)" size={22} transform="translate(1181,591) rotate(-90)" />
    </svg>
  );
}

export default function App() {
  return (
    <div style={{ position: 'absolute', left: 0, top: 0, width: 1190, height: 816, background: '#ffffff', overflow: 'hidden' }}>
      <style>{'.recharts-surface{overflow:visible !important}.recharts-wrapper{overflow:visible !important}'}</style>
      <LinearPanel left={0} top={0} W={480} H={400} box={{ L: 95, T: 26, R: 470, B: 332 }} yMax={20} yTicks={aTicksY} yStep={4}
        nonArch={aNonArch} arch50={aArch50} arch200={aArch200} fits={[aFitArch50, aFitNonArch, aFitArch200]}
        dashes={['140 4 22 4 2 4 18 4 2 4 18 4 2 4', '12 4 3 4', '10 4 3 4']} />
      <LinearPanel left={0} top={400} W={480} H={416} box={{ L: 93.3, T: 48, R: 470, B: 346 }} yMax={4} yTicks={cTicksY} yStep={1}
        nonArch={cNonArch} arch50={cArch50} arch200={cArch200} fits={[cFitArch50, cFitNonArch, cFitArch200]}
        dashes={['12 6', '4 3', '4 3 4 3 4 3 4 3 4 3 4 3 4 3 4 3 4 3 4 3 4 3 4 3 4 3 4 3 4 3 4 3 60 2']} />
      <LogPanel left={480} top={0} W={710} H={400} box={{ L: 97.4, T: 25, R: 605.4, B: 334 }} xDomain={[10, 1000]} xTicks={bTicksX}
        fmtX={plain} arch={bArch} nonArch={bNonArch} materials={bMaterials}
        regionArch={bRegionArch} regionArchEllipse={[32, 138, 20.7]} regionNonArch={bRegionNonArch} nonArchEllipse={[71, 36.5, -38.4]}
        labels={bLabels} arrows={bArrows} lines={bLines} />
      <LogPanel left={480} top={400} W={710} H={416} box={{ L: 96, T: 48.3, R: 605.4, B: 346 }} xDomain={[0.0001, 0.1]} xTicks={dTicksX}
        fmtX={(v: number) => dTickLabels[Math.round(Math.log10(v)) + 4]} arch={dArch} nonArch={dNonArch} materials={dMaterials}
        regionArch={dRegionArch} regionArchEllipse={null} regionNonArch={dRegionNonArch} nonArchEllipse={[80, 27, -41.3]}
        labels={dLabels} arrows={dArrows} lines={dLines} />
      <Overlay />
    </div>
  );
}
